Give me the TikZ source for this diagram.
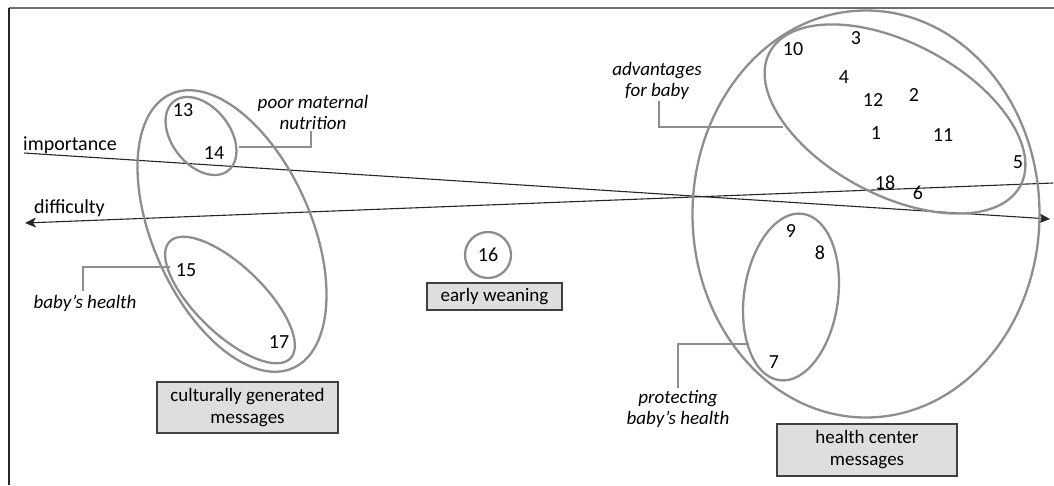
\documentclass[tikz,border=0pt]{standalone}
\usepackage{fontspec}
\setmainfont{Carlito}
\usetikzlibrary{arrows.meta}
\definecolor{grpgray}{HTML}{8E8E8E}
\definecolor{boxgray}{HTML}{DEDEDF}
\definecolor{framegray}{HTML}{6E6E6E}
\begin{document}
\begin{tikzpicture}[x=1pt,y=-1pt,
  grp/.style={draw=grpgray, line width=2.3pt},
  lead/.style={draw=grpgray, line width=2.1pt},
  axisline/.style={draw=black!85, line width=1.1pt},
  num/.style={font=\fontsize{20}{21}\selectfont, inner sep=0pt},
  lab/.style={font=\fontsize{19}{21}\selectfont\itshape, align=center, inner sep=0pt},
  axlab/.style={font=\fontsize{20}{21}\selectfont, inner sep=0pt},
  msgbox/.style={draw=black!75, line width=1.2pt, fill=boxgray, font=\fontsize{19}{22}\selectfont, align=center, inner sep=0pt}
]
\useasboundingbox (0,0) rectangle (1054,485);
% frame
\draw[framegray, line width=1.6pt] (9,8) -- (1054,8);
\draw[black!85, line width=1.3pt] (9,8) -- (9,485);

% axes
\coordinate (impS) at (24,153);
\coordinate (impE) at (1050,219);
\coordinate (difS) at (1053,183);
\coordinate (difE) at (25,223);
\draw[axisline, -{Stealth[length=11pt,width=10pt,inset=3pt]}] (impS) -- (impE);
\draw[axisline, -{Stealth[length=11pt,width=10pt,inset=3pt]}] (difS) -- (difE);
\node[axlab, anchor=west] (imp) at (23,145) {importance};
\node[axlab, anchor=west] (dif) at (34,208) {difficulty};

% left groups
\draw[grp, rotate around={24:(232,231)}] (232,231) ellipse [x radius=79, y radius=150];
\draw[grp, rotate around={38:(201,136)}] (201,136) ellipse [x radius=29, y radius=44];
\draw[grp, rotate around={46:(230,300)}] (230,300) ellipse [x radius=34, y radius=84];

\node[num] (n13) at (183,110) {13};
\node[num] (n14) at (214,153) {14};
\node[num] (n15) at (186,270) {15};
\node[num] (n17) at (279,342) {17};

\node[lab] (pmn) at (313,112) {poor maternal\\nutrition};
\coordinate (pmnA) at (239,147);
\draw[lead] (pmnA) -- (pmnA -| 311,0) -- (311,131);

\node[lab] (bh) at (85,303) {baby’s health};
\coordinate (bhA) at (170,267);
\draw[lead] (bhA) -- (bhA -| 83,0) -- (83,291);

\node[msgbox, minimum width=181pt, minimum height=51pt] (cgm) at (247.5,407.5) {culturally generated\\messages};

% middle
\node[grp, circle, minimum size=46pt, inner sep=0pt, font=\fontsize{20}{21}\selectfont] (n16) at (488,255) {16};
\node[msgbox, minimum width=135pt, minimum height=27pt] (ew) at (494.5,296.5) {early weaning};

% right groups
\draw[grp] (866,214) ellipse [x radius=173.5, y radius=203.5];
\draw[grp, rotate around={-28:(895,119)}] (895,119) ellipse [x radius=142, y radius=76];
\draw[grp, rotate around={-8:(791,297)}] (791,297) ellipse [x radius=47, y radius=84];

\node[num] (n10) at (793,49) {10};
\node[num] (n3) at (856,38) {3};
\node[num] (n4) at (844,77) {4};
\node[num] (n12) at (873,100) {12};
\node[num] (n2) at (914,95) {2};
\node[num] (n1) at (876,133) {1};
\node[num] (n11) at (943,135) {11};
\node[num] (n5) at (1018,162) {5};
\node[num] (n18) at (885,183) {18};
\node[num] (n6) at (918,193) {6};
\node[num] (n9) at (791,231) {9};
\node[num] (n8) at (820,253) {8};
\node[num] (n7) at (774,362) {7};

\node[lab] (afb) at (657,81) {advantages\\for baby};
\coordinate (afbA) at (783,127);
\draw[lead] (afbA) -- (afbA -| 659,0) -- (659,101);

\node[lab] (pbh) at (678,409) {protecting\\baby’s health};
\coordinate (pbhA) at (749,344);
\draw[lead] (pbhA) -- (pbhA -| 678,0) -- (678,388);

\node[msgbox, minimum width=180pt, minimum height=52pt] (hcm) at (867,450) {health center\\messages};
\end{tikzpicture}
\end{document}
